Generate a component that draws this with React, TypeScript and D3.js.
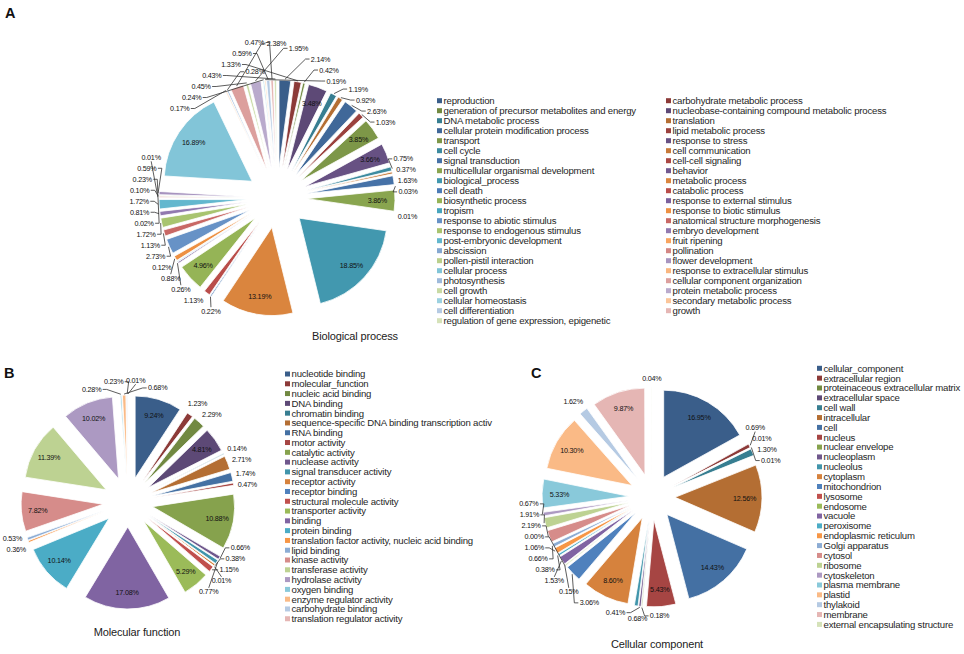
import React from "react";
import * as d3 from "d3";

const FONT = "'Liberation Sans', Arial, Helvetica, sans-serif";
const INSIDE_MIN = 3.3;

// A: Biological process (pie order, legend read row by row over two columns)
const bpTerms = [
  "reproduction", "carbohydrate metabolic process",
  "generation of precursor metabolites and energy", "nucleobase-containing compound metabolic process",
  "DNA metabolic process", "translation",
  "cellular protein modification process", "lipid metabolic process",
  "transport", "response to stress",
  "cell cycle", "cell communication",
  "signal transduction", "cell-cell signaling",
  "multicellular organismal development", "behavior",
  "biological_process", "metabolic process",
  "cell death", "catabolic process",
  "biosynthetic process", "response to external stimulus",
  "tropism", "response to biotic stimulus",
  "response to abiotic stimulus", "anatomical structure morphogenesis",
  "response to endogenous stimulus", "embryo development",
  "post-embryonic development", "fruit ripening",
  "abscission", "pollination",
  "pollen-pistil interaction", "flower development",
  "cellular process", "response to extracellular stimulus",
  "photosynthesis", "cellular component organization",
  "cell growth", "protein metabolic process",
  "cellular homeostasis", "secondary metabolic process",
  "cell differentiation", "growth",
  "regulation of gene expression, epigenetic",
];
const bpValues = [
  2.14, 1.33, 0.42, 3.48, 1.19, 0.92, 2.63, 1.03, 3.85, 3.66,
  0.75, 0.37, 1.63, 0.03, 3.86, 0.01, 18.85, 13.19, 0.22, 1.13,
  4.96, 0.26, 0.12, 0.88, 2.73, 1.13, 1.72, 0.81, 1.72, 0.01,
  0.02, 0.23, 0.10, 0.59, 16.89, 0.17, 0.28, 2.38, 0.45, 1.95,
  0.24, 0.19, 0.59, 0.47, 0.43,
];

// B: Molecular function
const mfTerms = [
  "nucleotide binding", "molecular_function", "nucleic acid binding", "DNA binding",
  "chromatin binding", "sequence-specific DNA binding transcription activ", "RNA binding",
  "motor activity", "catalytic activity", "nuclease activity", "signal transducer activity",
  "receptor activity", "receptor binding", "structural molecule activity", "transporter activity",
  "binding", "protein binding", "translation factor activity, nucleic acid binding",
  "lipid binding", "kinase activity", "transferase activity", "hydrolase activity",
  "oxygen binding", "enzyme regulator activity", "carbohydrate binding", "translation regulator activity",
];
const mfValues = [
  9.24, 1.23, 2.29, 4.81, 0.14, 2.71, 1.74, 0.47, 10.88, 0.66,
  0.77, 0.38, 0.01, 1.15, 5.29, 17.08, 10.14, 0.36, 0.53, 7.82,
  11.39, 10.02, 0.28, 0.68, 0.23, 0.01,
];

// C: Cellular component
const ccTerms = [
  "cellular_component", "extracellular region", "proteinaceous extracellular matrix",
  "extracellular space", "cell wall", "intracellular", "cell", "nucleus", "nuclear envelope",
  "nucleoplasm", "nucleolus", "cytoplasm", "mitochondrion", "lysosome", "endosome", "vacuole",
  "peroxisome", "endoplasmic reticulum", "Golgi apparatus", "cytosol", "ribosome",
  "cytoskeleton", "plasma membrane", "plastid", "thylakoid", "membrane",
  "external encapsulating structure",
];
const ccValues = [
  16.95, 0.69, 0.01, 0.01, 1.30, 12.56, 14.43, 5.43, 0.18, 0.41,
  0.68, 8.60, 3.06, 0.00, 0.15, 1.53, 0.38, 1.06, 0.66, 2.19,
  1.91, 0.67, 5.33, 10.30, 1.62, 9.87, 0.04,
];

const ACCENTS = ["#4F81BD", "#C0504D", "#9BBB59", "#8064A2", "#4BACC6", "#F79646"];

// office-style "vary colors by point": dark shades first, light tints last
function sliceColor(i: number, n: number) {
  const levels = Math.ceil(n / ACCENTS.length);
  const level = Math.floor(i / ACCENTS.length);
  const base = d3.rgb(ACCENTS[i % ACCENTS.length]);
  const p = levels > 1 ? -1 + (2 * level) / (levels - 1) : 0;
  if (p <= 0) {
    const k = 1 - 0.27 * -p;
    return d3.rgb(base.r * k, base.g * k, base.b * k).formatHex();
  }
  const t = 0.58 * Math.pow(p, 0.75);
  return d3
    .rgb(base.r + (255 - base.r) * t, base.g + (255 - base.g) * t, base.b + (255 - base.b) * t)
    .formatHex();
}

interface PanelCfg {
  letter: string;
  letterX: number;
  letterY: number;
  title: string;
  titleX: number;
  titleY: number;
  cx: number;
  cy: number;
  r: number;
  explode: number;
  bounds: [number, number, number, number];
  legendX: number[];
  legendY: number;
  legendStep: number;
}

interface LabelNode {
  text: string;
  x: number;
  y: number;
  tx: number;
  ty: number;
  ax: number;
  ay: number;
  w: number;
  h: number;
}

const fmt = (v: number) => `${v.toFixed(2)}%`;

function separate(nodes: LabelNode[], cx: number, cy: number) {
  for (let i = 0; i < nodes.length; i++) {
    for (let j = i + 1; j < nodes.length; j++) {
      const a = nodes[i], c = nodes[j];
      const dx = c.x - a.x, dy = c.y - a.y;
      const ox = (a.w + c.w) / 2 + 2 - Math.abs(dx);
      const oy = (a.h + c.h) / 2 - Math.abs(dy);
      if (ox <= 0 || oy <= 0) continue;
      // push the pair apart along the circle (tangent at their midpoint)
      const mx = (a.x + c.x) / 2 - cx, my = (a.y + c.y) / 2 - cy;
      const md = Math.hypot(mx, my) || 1;
      const tx = -my / md, ty = mx / md;
      const sep = dx * tx + dy * ty;
      const s = sep >= 0 ? 1 : -1;
      const dX = Math.abs(tx) > 1e-3 ? ox / Math.abs(tx) : Infinity;
      const dY = Math.abs(ty) > 1e-3 ? oy / Math.abs(ty) : Infinity;
      const delta = Math.min(dX, dY) * 0.55;
      a.x -= s * tx * delta;
      a.y -= s * ty * delta;
      c.x += s * tx * delta;
      c.y += s * ty * delta;
    }
  }
}

function constrain(nodes: LabelNode[], cx: number, cy: number, R: number, b: [number, number, number, number]) {
  nodes.forEach((n) => {
    const dx = n.x - cx, dy = n.y - cy;
    const dist = Math.hypot(dx, dy) || 1;
    const need = R + (Math.abs(dx / dist) * n.w) / 2 + (Math.abs(dy / dist) * n.h) / 2;
    if (dist < need) {
      n.x = cx + (dx / dist) * need;
      n.y = cy + (dy / dist) * need;
    }
    n.x = Math.max(b[0] + n.w / 2, Math.min(b[2] - n.w / 2, n.x));
    n.y = Math.max(b[1] + n.h / 2, Math.min(b[3] - n.h / 2, n.y));
  });
}

function layoutLabels(nodes: LabelNode[], cx: number, cy: number, R: number, b: [number, number, number, number]) {
  for (let it = 0; it < 600; it++) {
    nodes.forEach((n) => {
      n.x += (n.tx - n.x) * 0.01;
      n.y += (n.ty - n.y) * 0.01;
    });
    separate(nodes, cx, cy);
    separate(nodes, cx, cy);
    constrain(nodes, cx, cy, R, b);
  }
  for (let it = 0; it < 60; it++) {
    separate(nodes, cx, cy);
    constrain(nodes, cx, cy, R, b);
  }
}

function PiePanel({ terms, values, cfg }: { terms: string[]; values: number[]; cfg: PanelCfg }) {
  const { cx, cy, r, explode } = cfg;
  const arcs = d3.pie<number>().sort(null).value((v) => v)(values);
  const arcGen = d3.arc<d3.PieArcDatum<number>>().innerRadius(0).outerRadius(r);
  const n = values.length;

  const outside: LabelNode[] = [];
  arcs.forEach((a) => {
    if (a.value >= INSIDE_MIN) return;
    const mid = (a.startAngle + a.endAngle) / 2;
    const ux = Math.sin(mid), uy = -Math.cos(mid);
    const text = fmt(a.value);
    const w = text.length * 3.8 + 1;
    const h = 11;
    const R = explode + r + 3;
    const tx = cx + ux * R + (ux * w) / 2;
    const ty = cy + uy * R + (uy * h) / 2;
    outside.push({
      text, x: tx, y: ty, tx, ty, w, h,
      ax: cx + ux * (explode + r + 1),
      ay: cy + uy * (explode + r + 1),
    });
  });
  layoutLabels(outside, cx, cy, explode + r + 3, cfg.bounds);

  const cols = cfg.legendX.length;

  return (
    <g>
      <text x={cfg.letterX} y={cfg.letterY} fontSize={14.5} fontWeight="bold" fill="#111">
        {cfg.letter}
      </text>
      {arcs.map((a, i) => {
        const mid = (a.startAngle + a.endAngle) / 2;
        const ox = Math.sin(mid) * explode, oy = -Math.cos(mid) * explode;
        return (
          <path
            key={i}
            d={arcGen(a) ?? ""}
            transform={`translate(${cx + ox},${cy + oy})`}
            fill={sliceColor(i, n)}
            stroke="#fff"
            strokeWidth={0.8}
          />
        );
      })}
      {arcs.map((a, i) => {
        if (a.value < INSIDE_MIN) return null;
        const mid = (a.startAngle + a.endAngle) / 2;
        const rr = explode + r * 0.8;
        return (
          <text key={i} x={cx + Math.sin(mid) * rr} y={cy - Math.cos(mid) * rr} dy="0.35em"
            textAnchor="middle" fontSize={7.2} letterSpacing={-0.2} fill="#111">
            {fmt(a.value)}
          </text>
        );
      })}
      {outside.map((l, i) => {
        const moved = Math.hypot(l.x - l.tx, l.y - l.ty) > 6;
        let pts: [number, number][] = [];
        if (moved) {
          if (l.x - l.w / 2 > l.ax) {
            const ex = l.x - l.w / 2 - 1;
            pts = [[l.ax, l.ay], [ex - 4, l.y], [ex, l.y]];
          } else if (l.x + l.w / 2 < l.ax) {
            const ex = l.x + l.w / 2 + 1;
            pts = [[l.ax, l.ay], [ex + 4, l.y], [ex, l.y]];
          } else if (l.y < l.ay) {
            pts = [[l.ax, l.ay], [l.x, l.y + 4]];
          } else {
            pts = [[l.ax, l.ay], [l.x, l.y - 4]];
          }
        }
        return (
          <g key={i}>
            {moved && (
              <path d={d3.line()(pts) ?? ""} fill="none" stroke="#333" strokeWidth={0.8} />
            )}
            <text x={l.x} y={l.y} dy="0.35em" textAnchor="middle" fontSize={7.2}
              letterSpacing={-0.2} fill="#111">
              {l.text}
            </text>
          </g>
        );
      })}
      <text x={cfg.titleX} y={cfg.titleY} textAnchor="middle" fontSize={11}
        letterSpacing={-0.15} fill="#222">
        {cfg.title}
      </text>
      {terms.map((t, i) => {
        const lx = cfg.legendX[i % cols];
        const ly = cfg.legendY + Math.floor(i / cols) * cfg.legendStep;
        return (
          <g key={t + i}>
            <rect x={lx} y={ly - 2.5} width={5} height={5} fill={sliceColor(i, n)} />
            <text x={lx + 6.5} y={ly} dy="0.35em" fontSize={9.6} letterSpacing={-0.2} fill="#262626">
              {t}
            </text>
          </g>
        );
      })}
    </g>
  );
}

const cfgA: PanelCfg = {
  letter: "A", letterX: 5, letterY: 18,
  title: "Biological process", titleX: 355, titleY: 340,
  cx: 277, cy: 198, r: 88, explode: 30,
  bounds: [40, 3, 430, 326],
  legendX: [437, 666], legendY: 100.7, legendStep: 10,
};
const cfgB: PanelCfg = {
  letter: "B", letterX: 4, letterY: 378,
  title: "Molecular function", titleX: 137, titleY: 636,
  cx: 128, cy: 502, r: 82, explode: 25,
  bounds: [2, 358, 282, 622],
  legendX: [285], legendY: 374, legendStep: 9.79,
};
const cfgC: PanelCfg = {
  letter: "C", letterX: 531, letterY: 378,
  title: "Cellular component", titleX: 657, titleY: 648,
  cx: 652, cy: 497, r: 87, explode: 23,
  bounds: [480, 358, 812, 634],
  legendX: [817], legendY: 368.3, legendStep: 9.85,
};

export default function App() {
  return (
    <svg
      width={964}
      height={654}
      style={{ position: "absolute", left: 0, top: 0, background: "#fff", fontFamily: FONT }}
    >
      <rect width={964} height={654} fill="#fff" />
      <PiePanel terms={bpTerms} values={bpValues} cfg={cfgA} />
      <PiePanel terms={mfTerms} values={mfValues} cfg={cfgB} />
      <PiePanel terms={ccTerms} values={ccValues} cfg={cfgC} />
    </svg>
  );
}
